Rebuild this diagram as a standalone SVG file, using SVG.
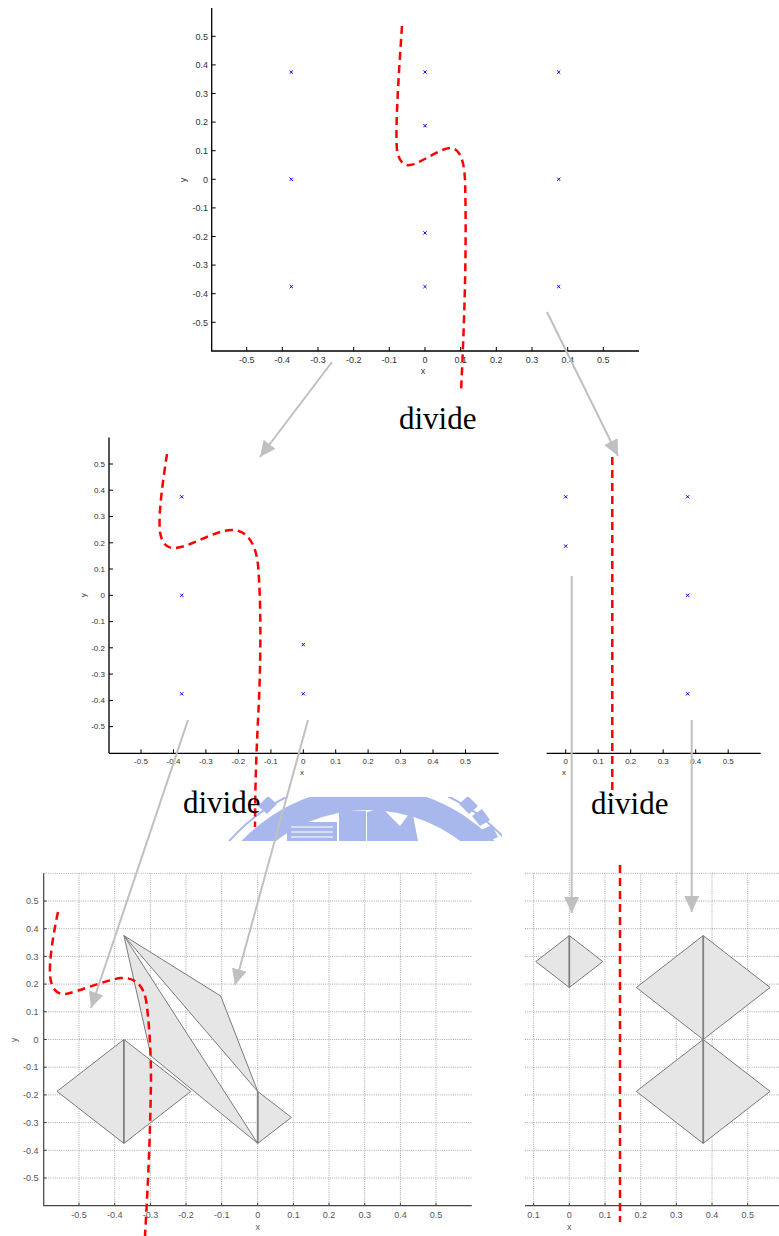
<svg xmlns="http://www.w3.org/2000/svg" width="779" height="1236" viewBox="0 0 779 1236">
<style>
.ax{stroke:#000;stroke-width:1.3;fill:none}
.ax2{stroke:#555;stroke-width:2;fill:none}
.axg{stroke:#444;stroke-width:1.2;fill:none}
.tk{stroke:#000;stroke-width:1}
.tkg{stroke:#444;stroke-width:1}
.lb{font-family:"Liberation Sans",Arial,sans-serif;font-size:9px;fill:#333}
.lb8{font-family:"Liberation Sans",Arial,sans-serif;font-size:8px;fill:#333}
.lbg{font-family:"Liberation Sans",Arial,sans-serif;font-size:9px;fill:#555}
.e{text-anchor:end}
.m{text-anchor:middle}
.grid{stroke:#a8a8a8;stroke-width:1;stroke-dasharray:1 1.2;fill:none}
.red{stroke:#ff0000;stroke-width:2.5;fill:none;stroke-dasharray:8 5}
.arr{stroke:#c0c0c0;stroke-width:2;fill:none;marker-end:url(#ah)}
.tri{fill:#e6e6e6;stroke:#7a7a7a;stroke-width:1;stroke-linejoin:round}
.vl{stroke:#808080;stroke-width:1.8}
.div{font-family:"Liberation Serif","Times New Roman",serif;font-size:31px;fill:#000}
.mk{stroke:#0000ff;stroke-width:1;fill:none}
.wm{fill:#9fb1ea}
.wml{stroke:#9fb1ea;fill:none}
</style>
<defs>
<marker id="ah" viewBox="0 0 16 15" refX="16" refY="7.5" markerWidth="16" markerHeight="15" markerUnits="userSpaceOnUse" orient="auto">
<path d="M0,0L16,7.5L0,15z" fill="#c0c0c0"/>
</marker>
<path id="x" class="mk" d="M-1.6,-1.6L1.6,1.6M-1.6,1.6L1.6,-1.6"/>
<clipPath id="wmclip"><rect x="228" y="797" width="274" height="44"/></clipPath>
</defs>
<rect width="779" height="1236" fill="#fff"/>

<!-- watermark (partial emblem) -->
<g id="watermark" clip-path="url(#wmclip)" opacity="0.9">
<path class="wm" fill-rule="evenodd" d="M193,962a175,175 0 1,0 350,0a175,175 0 1,0 -350,0ZM216,962a152,152 0 1,0 304,0a152,152 0 1,0 -304,0Z"/>
<circle class="wml" cx="368" cy="962" r="184" stroke-width="2"/>
<g class="wm">
<path d="M459,804l9,-8l10,10l-9,8z"/>
<path d="M472,816l10,-7l8,11l-10,6z"/>
<path d="M481,830l11,-5l6,12l-11,5z"/>
<path d="M277,804l-9,-8l-10,10l9,8z"/>
</g>
<rect class="wm" x="287" y="822" width="50" height="19"/>
<path d="M291,827H333M291,832H333M291,837H333" stroke="#fff" stroke-width="1.5" opacity="0.7"/>
<rect class="wm" x="339" y="811" width="27" height="30"/>
<path class="wm" d="M367,841V812L382,808L400,826L412,810L418,841Z"/>
</g>

<!-- Top plot -->
<g id="plot-top">
<path class="ax" d="M211.7,8V351H639"/>
<g class="tk">
<path d="M211.7,36.3h4M211.7,64.9h4M211.7,93.5h4M211.7,122.1h4M211.7,150.7h4M211.7,179.3h4M211.7,207.9h4M211.7,236.5h4M211.7,265.1h4M211.7,293.7h4M211.7,322.3h4"/>
<path d="M246.7,351v-4M282.3,351v-4M318,351v-4M353.7,351v-4M389.3,351v-4M425,351v-4M460.7,351v-4M496.3,351v-4M532,351v-4M567.7,351v-4M603.3,351v-4"/>
</g>
<g class="lb e">
<text x="208" y="39.5">0.5</text><text x="208" y="68.1">0.4</text><text x="208" y="96.7">0.3</text><text x="208" y="125.3">0.2</text><text x="208" y="153.9">0.1</text><text x="208" y="182.5">0</text><text x="208" y="211.1">-0.1</text><text x="208" y="239.7">-0.2</text><text x="208" y="268.3">-0.3</text><text x="208" y="296.9">-0.4</text><text x="208" y="325.5">-0.5</text>
</g>
<g class="lb m">
<text x="246.7" y="362.5">-0.5</text><text x="282.3" y="362.5">-0.4</text><text x="318" y="362.5">-0.3</text><text x="353.7" y="362.5">-0.2</text><text x="389.3" y="362.5">-0.1</text><text x="425" y="362.5">0</text><text x="460.7" y="362.5">0.1</text><text x="496.3" y="362.5">0.2</text><text x="532" y="362.5">0.3</text><text x="567.7" y="362.5">0.4</text><text x="603.3" y="362.5">0.5</text>
<text x="423" y="374">x</text>
<text transform="translate(186,180) rotate(-90)">y</text>
</g>
<g>
<use href="#x" x="291.3" y="72.1"/><use href="#x" x="291.3" y="179.3"/><use href="#x" x="291.3" y="286.6"/>
<use href="#x" x="425" y="72.1"/><use href="#x" x="425" y="125.7"/><use href="#x" x="425" y="232.9"/><use href="#x" x="425" y="286.6"/>
<use href="#x" x="558.7" y="72.1"/><use href="#x" x="558.7" y="179.3"/><use href="#x" x="558.7" y="286.6"/>
</g>
<path class="red" d="M402,26 C399,70 395,130 397,150 C399,162 404,166 410,165 C422,163 438,149 450,148 C460,148 464,160 465,180 C467,250 464,330 461,392"/>
</g>
<text id="divide-top" class="div" x="399" y="428.5">divide</text>

<!-- Middle left plot -->
<g id="plot-mid-left">
<path class="ax2" d="M109,437.5V753.3"/>
<path class="ax" d="M109,753.3H498.7"/>
<g class="tk">
<path d="M109,464h4M109,490.2h4M109,516.5h4M109,542.8h4M109,569h4M109,595.3h4M109,621.6h4M109,647.8h4M109,674.1h4M109,700.4h4M109,726.6h4"/>
<path d="M141,753.3v-4M173.5,753.3v-4M205.9,753.3v-4M238.4,753.3v-4M270.9,753.3v-4M303.3,753.3v-4M335.7,753.3v-4M368.1,753.3v-4M400.6,753.3v-4M433,753.3v-4M465.5,753.3v-4"/>
</g>
<g class="lb8 e">
<text x="105" y="466.8">0.5</text><text x="105" y="493">0.4</text><text x="105" y="519.3">0.3</text><text x="105" y="545.6">0.2</text><text x="105" y="571.8">0.1</text><text x="105" y="598.1">0</text><text x="105" y="624.4">-0.1</text><text x="105" y="650.6">-0.2</text><text x="105" y="676.9">-0.3</text><text x="105" y="703.2">-0.4</text><text x="105" y="729.4">-0.5</text>
</g>
<g class="lb8 m">
<text x="141" y="764">-0.5</text><text x="173.5" y="764">-0.4</text><text x="205.9" y="764">-0.3</text><text x="238.4" y="764">-0.2</text><text x="270.9" y="764">-0.1</text><text x="303.3" y="764">0</text><text x="335.7" y="764">0.1</text><text x="368.1" y="764">0.2</text><text x="400.6" y="764">0.3</text><text x="433" y="764">0.4</text><text x="465.5" y="764">0.5</text>
<text x="302" y="775">x</text>
<text transform="translate(86,595.3) rotate(-90)">y</text>
</g>
<g>
<use href="#x" x="181.7" y="496.8"/><use href="#x" x="181.7" y="595.3"/><use href="#x" x="181.7" y="693.8"/>
<use href="#x" x="303.3" y="644.6"/><use href="#x" x="303.3" y="693.8"/>
</g>
<path class="red" d="M167,454 C163,480 158,515 160,532 C162,545 168,549 176,548 C195,545 215,530 232,530 C248,530 256,545 258,565 C261,600 261,650 259,700 C257,740 255,780 255,827"/>
</g>
<text id="divide-mid-left" class="div" x="183" y="812.7">divide</text>

<!-- Middle right plot -->
<g id="plot-mid-right">
<path class="ax" d="M546.7,753.3H760.7"/>
<g class="tk">
<path d="M565.7,753.3v-4M598.2,753.3v-4M630.7,753.3v-4M663.2,753.3v-4M695.7,753.3v-4M728.2,753.3v-4"/>
</g>
<g class="lb8 m">
<text x="565.7" y="764">0</text><text x="598.2" y="764">0.1</text><text x="630.7" y="764">0.2</text><text x="663.2" y="764">0.3</text><text x="695.7" y="764">0.4</text><text x="728.2" y="764">0.5</text>
<text x="564" y="775">x</text>
</g>
<g>
<use href="#x" x="565.7" y="496.8"/><use href="#x" x="565.7" y="546.1"/>
<use href="#x" x="687.6" y="496.8"/><use href="#x" x="687.6" y="595.3"/><use href="#x" x="687.6" y="693.8"/>
</g>
<path class="red" d="M612.3,457V796"/>
</g>
<text id="divide-mid-right" class="div" x="591" y="813.5">divide</text>

<!-- Bottom left plot -->
<g id="plot-bottom-left">
<g class="grid">
<path d="M79,873.3V1205.7M114.7,873.3V1205.7M150.4,873.3V1205.7M186,873.3V1205.7M221.7,873.3V1205.7M257.7,873.3V1205.7M293.4,873.3V1205.7M329,873.3V1205.7M364.7,873.3V1205.7M400.4,873.3V1205.7M436,873.3V1205.7"/>
<path d="M43.7,873.3H471.7M43.7,901H471.7M43.7,928.7H471.7M43.7,956.4H471.7M43.7,984.1H471.7M43.7,1011.8H471.7M43.7,1039.5H471.7M43.7,1067.2H471.7M43.7,1094.9H471.7M43.7,1122.6H471.7M43.7,1150.3H471.7M43.7,1178H471.7"/>
</g>
<path class="axg" d="M43.7,873.3V1205.7H471.7"/>
<g class="tkg">
<path d="M43.7,901h3M43.7,928.7h3M43.7,956.4h3M43.7,984.1h3M43.7,1011.8h3M43.7,1039.5h3M43.7,1067.2h3M43.7,1094.9h3M43.7,1122.6h3M43.7,1150.3h3M43.7,1178h3"/>
<path d="M79,1205.7v-3M114.7,1205.7v-3M150.4,1205.7v-3M186,1205.7v-3M221.7,1205.7v-3M257.7,1205.7v-3M293.4,1205.7v-3M329,1205.7v-3M364.7,1205.7v-3M400.4,1205.7v-3M436,1205.7v-3"/>
</g>
<g class="lbg e">
<text x="38.5" y="904.2">0.5</text><text x="38.5" y="931.9">0.4</text><text x="38.5" y="959.6">0.3</text><text x="38.5" y="987.3">0.2</text><text x="38.5" y="1015">0.1</text><text x="38.5" y="1042.7">0</text><text x="38.5" y="1070.4">-0.1</text><text x="38.5" y="1098.1">-0.2</text><text x="38.5" y="1125.8">-0.3</text><text x="38.5" y="1153.5">-0.4</text><text x="38.5" y="1181.2">-0.5</text>
</g>
<g class="lbg m">
<text x="79" y="1217.5">-0.5</text><text x="114.7" y="1217.5">-0.4</text><text x="150.4" y="1217.5">-0.3</text><text x="186" y="1217.5">-0.2</text><text x="221.7" y="1217.5">-0.1</text><text x="257.7" y="1217.5">0</text><text x="293.4" y="1217.5">0.1</text><text x="329" y="1217.5">0.2</text><text x="364.7" y="1217.5">0.3</text><text x="400.4" y="1217.5">0.4</text><text x="436" y="1217.5">0.5</text>
<text x="257.7" y="1230">x</text>
<text transform="translate(17,1040) rotate(-90)">y</text>
</g>
<g>
<path class="tri" d="M123.9,935.6L220.7,996L257.7,1091.4Z"/>
<path class="tri" d="M123.9,935.6L151,1056L257.7,1143.4Z"/>
<path class="tri" d="M123.9,1039.5L57,1091.4L123.9,1143.4L190.8,1091.4Z"/>
<path class="vl" d="M123.9,1039.5V1143.4"/>
<path class="tri" d="M257.7,1091.4L291.4,1117.4L257.7,1143.4Z"/>
<path class="vl" d="M257.7,1091.4V1143.4"/>
</g>
<path class="red" d="M58,912 C54,930 49,960 50,975 C51,990 58,995 66,994 C80,991 100,982 120,978 C135,977 143,985 146,1000 C149,1020 151,1050 151,1080 C150,1150 147,1200 145,1236"/>
</g>

<!-- Bottom right plot -->
<g id="plot-bottom-right">
<g class="grid">
<path d="M533.6,873.3V1205.7M569.3,873.3V1205.7M605,873.3V1205.7M640.7,873.3V1205.7M676.3,873.3V1205.7M712,873.3V1205.7M747.7,873.3V1205.7"/>
<path d="M525,873.3H779M525,901H779M525,928.7H779M525,956.4H779M525,984.1H779M525,1011.8H779M525,1039.5H779M525,1067.2H779M525,1094.9H779M525,1122.6H779M525,1150.3H779M525,1178H779"/>
</g>
<path class="axg" d="M525,1205.7H779"/>
<g class="tkg">
<path d="M533.6,1205.7v-3M569.3,1205.7v-3M605,1205.7v-3M640.7,1205.7v-3M676.3,1205.7v-3M712,1205.7v-3M747.7,1205.7v-3"/>
</g>
<g class="lbg m">
<text x="533.6" y="1217.5">0.1</text><text x="569.3" y="1217.5">0</text><text x="605" y="1217.5">0.1</text><text x="640.7" y="1217.5">0.2</text><text x="676.3" y="1217.5">0.3</text><text x="712" y="1217.5">0.4</text><text x="747.7" y="1217.5">0.5</text>
<text x="569.3" y="1230">x</text>
</g>
<g>
<path class="tri" d="M569.3,935.6L535.8,961.6L569.3,987.5L602.8,961.6Z"/>
<path class="vl" d="M569.3,935.6V987.5"/>
<path class="tri" d="M703.2,935.6L636.3,987.5L703.2,1039.5L770.1,987.5Z"/>
<path class="tri" d="M703.2,1039.5L636.3,1091.4L703.2,1143.4L770.1,1091.4Z"/>
<path class="vl" d="M703.2,935.6V1143.4"/>
</g>
<path class="red" d="M620,865V1222"/>
</g>

<!-- connectors -->
<g id="connectors">
<path class="arr" d="M332,362L260,457"/>
<path class="arr" d="M547,312L618,456"/>
<path class="arr" d="M188,720L91,1008"/>
<path class="arr" d="M308,720L235,985"/>
<path class="arr" d="M571.7,576V913"/>
<path class="arr" d="M691.7,720V912"/>
</g>
</svg>
